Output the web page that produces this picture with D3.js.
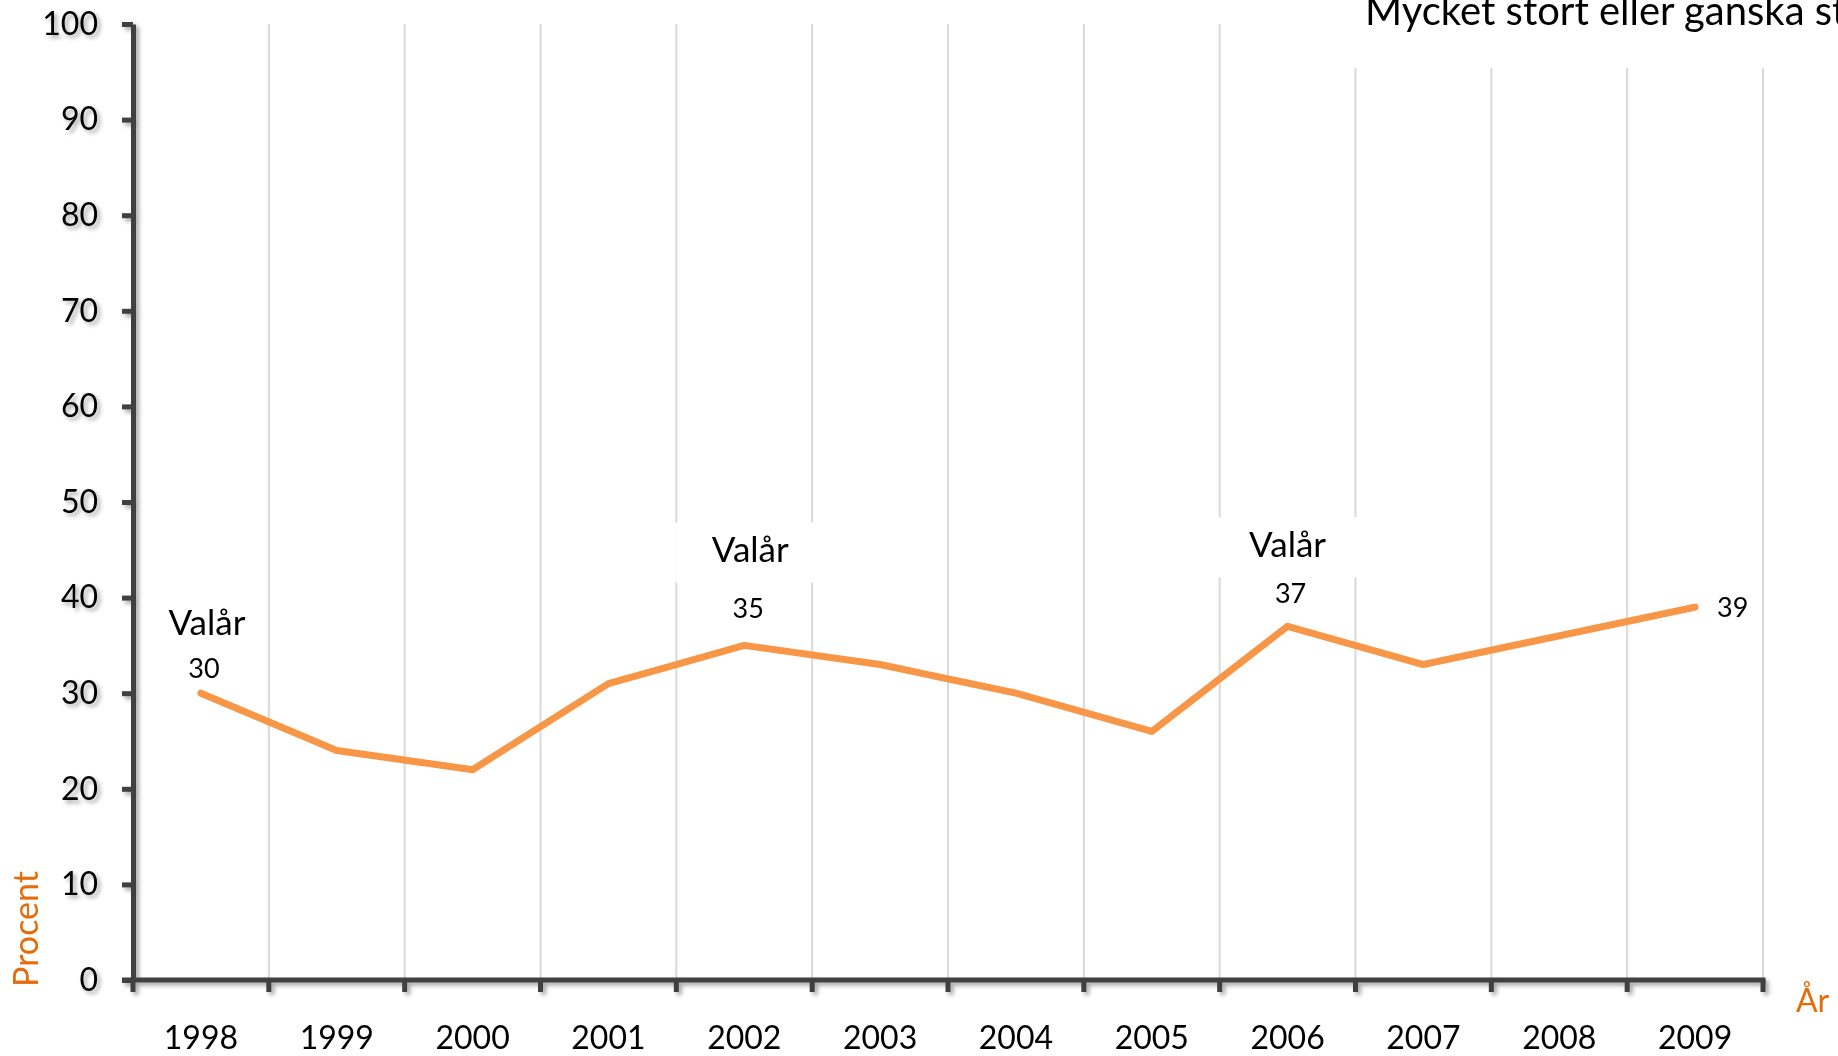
<!DOCTYPE html>
<html>
<head>
<meta charset="utf-8">
<script src="https://cdn.jsdelivr.net/npm/d3@7"></script>
<style>
  html, body { margin: 0; padding: 0; background: #fff; overflow: hidden; }
  svg { display: block; font-family: Lato, "Noto Sans", sans-serif; }
</style>
</head>
<body>
<svg id="chart" width="1838" height="1056"></svg>
<script>
// ---- data ----
const categories = ["1998","1999","2000","2001","2002","2003","2004","2005","2006","2007","2008","2009"];
const seriesYears = ["1998","1999","2000","2001","2002","2003","2004","2005","2006","2007","2009"];
const seriesValues = [30, 24, 22, 31, 35, 33, 30, 26, 37, 33, 39];
const yTicks = [0, 10, 20, 30, 40, 50, 60, 70, 80, 90, 100];
const labeledYears = ["1998", "2002", "2006", "2009"];
const electionYears = ["1998", "2002", "2006"];
const boxedElectionYears = ["2002", "2006"];
const electionText = "Valår";
const titleText = "Mycket stort eller ganska stort";
const yAxisTitle = "Procent";
const xAxisTitle = "År";

(function () {
// ---- layout ----
const W = 1838, H = 1056;
const pLeft = 133, pRight = 1763, pTop = 24, pBottom = 980;
const orange = "#f79646", orangeText = "#e46c0a", axisColor = "#404040", gridColor = "#d9d9d9";

const svg = d3.select("#chart");
const defs = svg.append("defs");
const f = defs.append("filter").attr("id", "shadow").attr("x", "-20%").attr("y", "-20%").attr("width", "140%").attr("height", "140%");
f.append("feDropShadow").attr("dx", 3).attr("dy", 3).attr("stdDeviation", 2.2)
  .attr("flood-color", "#000").attr("flood-opacity", 0.35);

const x = d3.scaleBand().domain(categories).range([pLeft, pRight]).padding(0);
const bw = x.bandwidth();
const y = d3.scaleLinear().domain([0, 100]).range([pBottom, pTop]);
const cx = d => x(d) + bw / 2;

// gridlines at category boundaries
const boundaries = categories.slice(1).map(c => x(c)).concat([pRight]);
svg.append("g").selectAll("line").data(boundaries).join("line")
  .attr("x1", d => d).attr("x2", d => d)
  .attr("y1", y(100)).attr("y2", y(0))
  .attr("stroke", gridColor).attr("stroke-width", 2);

// white label backgrounds (cover gridlines)
const valueOf = yr => seriesValues[seriesYears.indexOf(yr)];
const elecLayout = { "1998": { v: -58, n: -15 }, "2002": { v: -83, n: -27 }, "2006": { v: -69, n: -23 } };
const elecDx = { "1998": 6, "2002": 6, "2006": 0 };
svg.append("g").selectAll("rect").data(boxedElectionYears).join("rect")
  .attr("x", d => cx(d) + elecDx[d] - 75)
  .attr("y", d => y(valueOf(d)) + elecLayout[d].v - 40)
  .attr("width", 150).attr("height", 60)
  .attr("fill", "#fff");
svg.append("rect").attr("x", 1345).attr("y", 0).attr("width", W - 1345).attr("height", 68).attr("fill", "#fff");

// axes
const axG = svg.append("g").attr("filter", "url(#shadow)");
const yAxis = d3.axisLeft(y).tickValues(yTicks).tickSize(11).tickSizeOuter(0).tickPadding(24);
const yg = axG.append("g").attr("transform", `translate(${pLeft},0)`).call(yAxis);
yg.select(".domain").attr("stroke", axisColor).attr("stroke-width", 5);
yg.selectAll(".tick line").attr("stroke", axisColor).attr("stroke-width", 5);
yg.selectAll(".tick text").attr("font-size", 32).attr("fill", "#000").attr("font-family", "Lato, sans-serif");

// x axis line & boundary ticks
axG.append("line").attr("x1", pLeft - 11).attr("x2", pRight + 2.5)
  .attr("y1", pBottom).attr("y2", pBottom).attr("stroke", axisColor).attr("stroke-width", 5);
const allBounds = [pLeft].concat(boundaries);
axG.append("g").selectAll("line").data(allBounds).join("line")
  .attr("x1", d => d).attr("x2", d => d).attr("y1", pBottom).attr("y2", pBottom + 12)
  .attr("stroke", axisColor).attr("stroke-width", 5);

const xAxis = d3.axisBottom(x).tickSize(0).tickPadding(0);
const xg = svg.append("g").attr("transform", `translate(0,${pBottom})`).call(xAxis);
xg.select(".domain").remove();
xg.selectAll(".tick text").attr("font-size", 32).attr("fill", "#000")
  .attr("font-family", "Lato, sans-serif").attr("dy", null).attr("y", 69);

// line
const line = d3.line().x((d, i) => cx(seriesYears[i])).y(d => y(d));
svg.append("path").datum(seriesValues)
  .attr("d", line).attr("fill", "none").attr("stroke", orange)
  .attr("stroke-width", 7).attr("stroke-linejoin", "round").attr("stroke-linecap", "round");

// election labels
svg.append("g").selectAll("text").data(electionYears).join("text")
  .attr("x", d => cx(d) + elecDx[d])
  .attr("y", d => y(valueOf(d)) + elecLayout[d].v)
  .attr("text-anchor", "middle").attr("font-size", 35).attr("fill", "#000")
  .text(electionText);

// value labels
svg.append("g").selectAll("text").data(labeledYears).join("text")
  .attr("x", d => d === "2009" ? cx(d) + 22 : cx(d) + (d === "2002" ? 4 : 3))
  .attr("y", d => d === "2009" ? y(valueOf(d)) + 10 : y(valueOf(d)) + elecLayout[d].n)
  .attr("text-anchor", d => d === "2009" ? "start" : "middle")
  .attr("font-size", 27).attr("fill", "#000")
  .text(d => valueOf(d));

// title (partially visible, as in the reference)
svg.append("text").attr("x", 1365).attr("y", 25).attr("font-size", 40).attr("fill", "#000").text(titleText);

// axis titles
svg.append("text").attr("transform", `translate(38,${929}) rotate(-90)`)
  .attr("text-anchor", "middle").attr("font-size", 34).attr("fill", orangeText).text(yAxisTitle);
svg.append("text").attr("x", 1796).attr("y", 1012).attr("font-size", 32).attr("fill", orangeText).text(xAxisTitle);
})();
</script>
</body>
</html>
